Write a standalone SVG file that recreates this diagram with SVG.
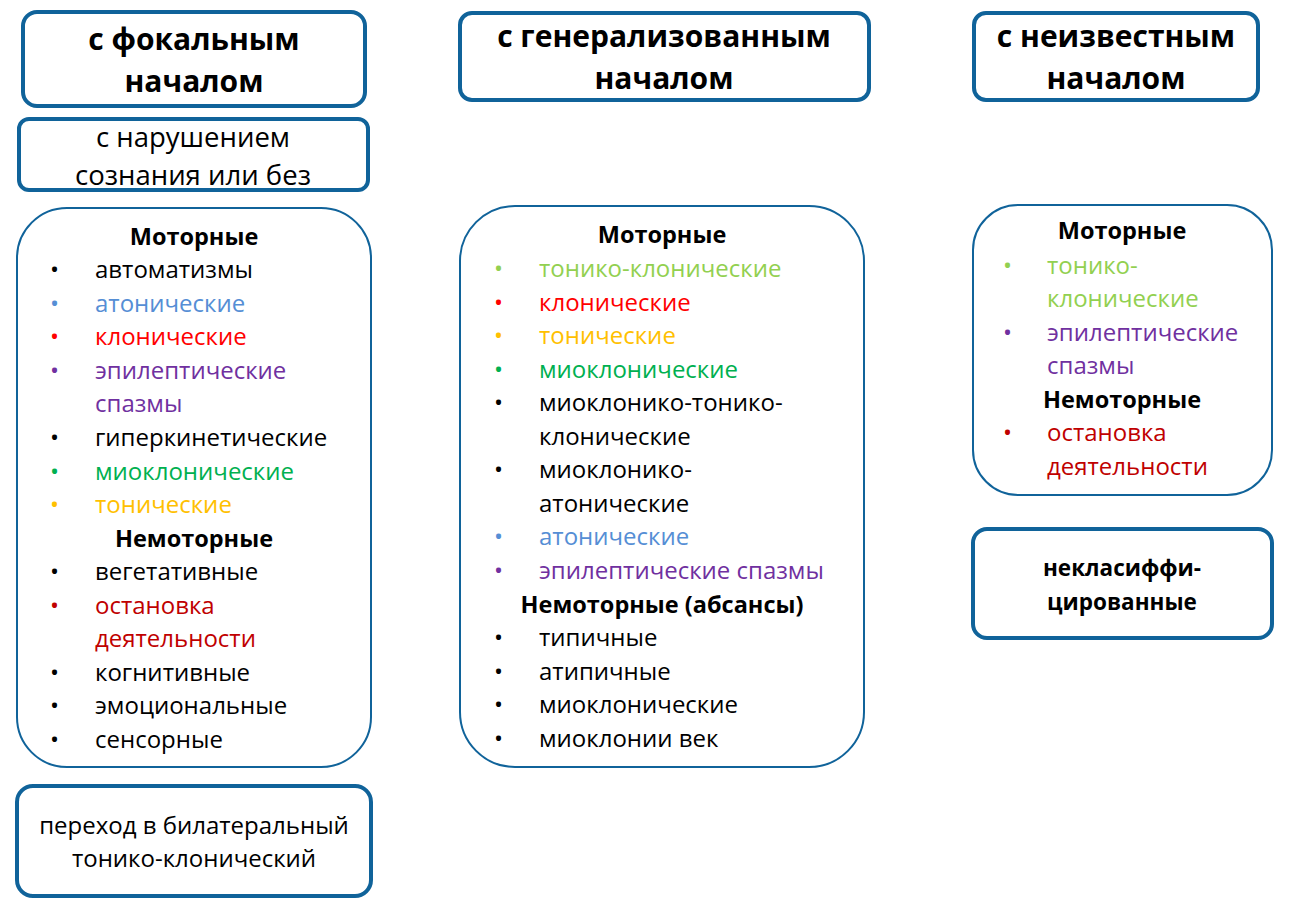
<svg xmlns="http://www.w3.org/2000/svg" width="1295" height="908" viewBox="0 0 1295 908">
<style>
text{font-family:"Open Sans","Noto Sans","DejaVu Sans",sans-serif;fill:#000}
.t{font-size:30px;font-weight:bold;text-anchor:middle}
.h{font-size:23.5px;font-weight:bold;text-anchor:middle}
.n{font-size:24px}
.b{font-size:27.5px;text-anchor:middle}
.c{text-anchor:middle}
.thick{fill:#fff;stroke:#10639A;stroke-width:4}
.thin{fill:#fff;stroke:#10639A;stroke-width:2}
.lg{fill:#92D050}.rd{fill:#FF0000}.or{fill:#FFC000}.gr{fill:#00B050}.bl{fill:#558ED5}.pu{fill:#7030A0}.dr{fill:#C00000}
</style>
<rect width="1295" height="908" fill="#fff"/>
<g id="connectors"/>
<g id="focal-title">
<rect class="thick" x="23" y="12" width="342" height="94" rx="14"/>
<text class="t" x="194" y="50">с фокальным</text>
<text class="t" x="194" y="92">началом</text>
</g>
<g id="focal-consciousness">
<rect class="thick" x="19" y="119" width="349" height="71" rx="10"/>
<text class="b" x="193" y="147">с нарушением</text>
<text class="b" x="193" y="185">сознания или без</text>
</g>
<g id="focal-list">
<rect class="thin" x="17" y="208" width="354" height="559" rx="50"/>
<text class="h" x="194" y="245">Моторные</text>
<g class="n">
<text x="50" y="278">•</text><text x="95" y="278">автоматизмы</text>
<text x="50" y="312" class="bl">•</text><text x="95" y="312" class="bl">атонические</text>
<text x="50" y="345" class="rd">•</text><text x="95" y="345" class="rd">клонические</text>
<text x="50" y="379" class="pu">•</text><text x="95" y="379" class="pu">эпилептические</text>
<text x="95" y="412" class="pu">спазмы</text>
<text x="50" y="446">•</text><text x="95" y="446">гиперкинетические</text>
<text x="50" y="480" class="gr">•</text><text x="95" y="480" class="gr">миоклонические</text>
<text x="50" y="513" class="or">•</text><text x="95" y="513" class="or">тонические</text>
</g>
<text class="h" x="194" y="547">Немоторные</text>
<g class="n">
<text x="50" y="580">•</text><text x="95" y="580">вегетативные</text>
<text x="50" y="614" class="dr">•</text><text x="95" y="614" class="dr">остановка</text>
<text x="95" y="647" class="dr">деятельности</text>
<text x="50" y="681">•</text><text x="95" y="681">когнитивные</text>
<text x="50" y="714">•</text><text x="95" y="714">эмоциональные</text>
<text x="50" y="748">•</text><text x="95" y="748">сенсорные</text>
</g>
</g>
<g id="focal-bilateral">
<rect class="thick" x="17" y="786" width="354" height="110" rx="16"/>
<text class="n c" x="194" y="834">переход в билатеральный</text>
<text class="n c" x="194" y="867">тонико-клонический</text>
</g>
<g id="gen-title">
<rect class="thick" x="460" y="13" width="409" height="87" rx="12"/>
<text class="t" x="664" y="47">с генерализованным</text>
<text class="t" x="664" y="89">началом</text>
</g>
<g id="gen-list">
<rect class="thin" x="460" y="206" width="404" height="561" rx="55"/>
<text class="h" x="662" y="243">Моторные</text>
<g class="n">
<text x="494" y="277" class="lg">•</text><text x="539" y="277" class="lg">тонико-клонические</text>
<text x="494" y="311" class="rd">•</text><text x="539" y="311" class="rd">клонические</text>
<text x="494" y="344" class="or">•</text><text x="539" y="344" class="or">тонические</text>
<text x="494" y="378" class="gr">•</text><text x="539" y="378" class="gr">миоклонические</text>
<text x="494" y="411">•</text><text x="539" y="411">миоклонико-тонико-</text>
<text x="539" y="445">клонические</text>
<text x="494" y="478">•</text><text x="539" y="478">миоклонико-</text>
<text x="539" y="512">атонические</text>
<text x="494" y="545" class="bl">•</text><text x="539" y="545" class="bl">атонические</text>
<text x="494" y="579" class="pu">•</text><text x="539" y="579" class="pu">эпилептические спазмы</text>
</g>
<text class="h" x="662" y="613">Немоторные (абсансы)</text>
<g class="n">
<text x="494" y="646">•</text><text x="539" y="646">типичные</text>
<text x="494" y="680">•</text><text x="539" y="680">атипичные</text>
<text x="494" y="713">•</text><text x="539" y="713">миоклонические</text>
<text x="494" y="747">•</text><text x="539" y="747">миоклонии век</text>
</g>
</g>
<g id="unknown-title">
<rect class="thick" x="974" y="13" width="284" height="87" rx="12"/>
<text class="t" x="1116" y="47">с неизвестным</text>
<text class="t" x="1116" y="89">началом</text>
</g>
<g id="unknown-list">
<rect class="thin" x="973" y="205" width="299" height="290" rx="45"/>
<text class="h" x="1122" y="239">Моторные</text>
<g class="n">
<text x="1003" y="274" class="lg">•</text><text x="1047" y="274" class="lg">тонико-</text>
<text x="1047" y="307" class="lg">клонические</text>
<text x="1003" y="341" class="pu">•</text><text x="1047" y="341" class="pu">эпилептические</text>
<text x="1047" y="374" class="pu">спазмы</text>
</g>
<text class="h" x="1122" y="408">Немоторные</text>
<g class="n">
<text x="1003" y="441" class="dr">•</text><text x="1047" y="441" class="dr">остановка</text>
<text x="1047" y="475" class="dr">деятельности</text>
</g>
</g>
<g id="unclassified">
<rect class="thick" x="973" y="529" width="299" height="109" rx="14"/>
<text class="h" x="1122" y="576" style="font-size:22.5px">некласиффи-</text>
<text class="h" x="1122" y="610" style="font-size:22.5px">цированные</text>
</g>
</svg>
